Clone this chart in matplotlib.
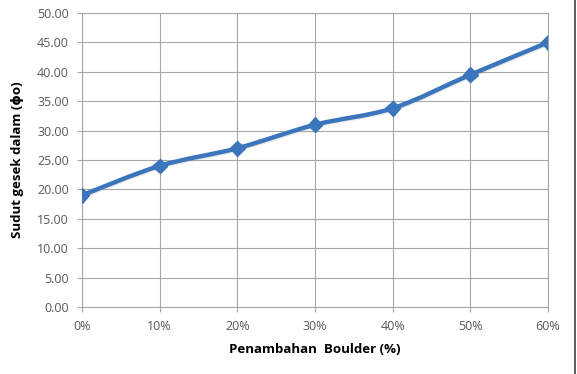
import numpy as np
import matplotlib
matplotlib.use('Agg')
import matplotlib.pyplot as plt
from matplotlib.path import Path
from matplotlib.patches import PathPatch
import matplotlib.patheffects as pe

# Data
boulder_pct = ['0%', '10%', '20%', '30%', '40%', '50%', '60%']
sudut_gesek = [19.0, 24.0, 27.0, 31.0, 33.8, 39.5, 45.0]
y_ticks = [0, 5, 10, 15, 20, 25, 30, 35, 40, 45, 50]

line_color = '#3B76BC'
grid_color = '#A6A6A6'
text_color = '#595959'

plt.rcParams['font.family'] = ['Open Sans', 'DejaVu Sans']

fig = plt.figure(figsize=(5.77, 3.74), dpi=100)
ax = fig.add_axes([0.1421, 0.1791, 0.8076, 0.7861])

x = np.arange(len(boulder_pct))
y = np.array(sudut_gesek)

# Excel-like smoothed line (Catmull-Rom as cubic beziers)
verts = [(x[0], y[0])]
codes = [Path.MOVETO]
for i in range(len(x) - 1):
    p0 = np.array([x[max(i - 1, 0)], y[max(i - 1, 0)]])
    p1 = np.array([x[i], y[i]])
    p2 = np.array([x[i + 1], y[i + 1]])
    p3 = np.array([x[min(i + 2, len(x) - 1)], y[min(i + 2, len(x) - 1)]])
    c1 = p1 + (p2 - p0) / 6.0
    c2 = p2 - (p3 - p1) / 6.0
    verts += [tuple(c1), tuple(c2), tuple(p2)]
    codes += [Path.CURVE4, Path.CURVE4, Path.CURVE4]
shadow = [pe.SimpleLineShadow(offset=(0.8, -0.8), shadow_color='#999999', alpha=0.2), pe.Normal()]
ax.add_patch(PathPatch(Path(verts, codes), facecolor='none', edgecolor=line_color,
                       lw=3.2, capstyle='round', joinstyle='round', zorder=3,
                       path_effects=shadow))
ax.plot(x, y, linestyle='none', marker='D', markersize=7.5, color=line_color,
        markeredgecolor=line_color, zorder=4,
        path_effects=[pe.SimplePatchShadow(offset=(0.8, -0.8), alpha=0.2), pe.Normal()])

ax.set_xlim(0, len(x) - 1)
ax.set_ylim(0, 50)
ax.set_xticks(x)
ax.set_xticklabels(boulder_pct)
ax.set_yticks(y_ticks)
ax.set_yticklabels([f'{v:.2f}' for v in y_ticks])
ax.grid(True, color=grid_color, linewidth=0.8)
ax.set_axisbelow(True)
for s in ax.spines.values():
    s.set_color(grid_color)
    s.set_linewidth(0.8)
ax.tick_params(axis='both', colors=grid_color, labelcolor=text_color, labelsize=9,
               length=3.5, width=0.8)
ax.tick_params(axis='x', pad=6)
ax.tick_params(axis='y', pad=6)

ax.set_xlabel('Penambahan  Boulder (%)', fontsize=9.5, fontweight='bold', labelpad=7)
ax.set_ylabel('Sudut gesek dalam (\u03d5o)', fontsize=9.5, fontweight='bold', labelpad=9)

# chart frame edge at right
fig.add_artist(plt.Line2D([0.9965, 0.9965], [0, 1], color='#404040', lw=1.2))

fig.savefig('out.png', dpi=100)
